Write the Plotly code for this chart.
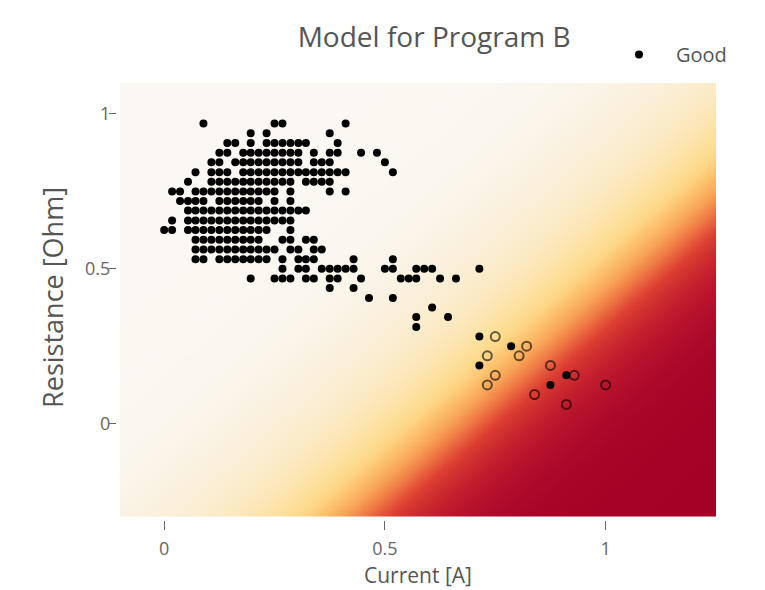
import numpy as np
import plotly.graph_objects as go

# ---------------- data ----------------
good_current = [
    0.089, 0.25, 0.268, 0.411,
    0.196, 0.232, 0.375,
    0.143, 0.161, 0.196, 0.232, 0.25, 0.268, 0.286, 0.304, 0.321, 0.393,
    0.125, 0.143, 0.179, 0.196, 0.214, 0.232, 0.25, 0.268, 0.286, 0.304, 0.339, 0.375, 0.393, 0.446, 0.482,
    0.107, 0.125, 0.161, 0.179, 0.196, 0.214, 0.232, 0.25, 0.268, 0.286, 0.304, 0.339, 0.357, 0.375, 0.5,
    0.071, 0.107, 0.125, 0.143, 0.179, 0.196, 0.214, 0.232, 0.25, 0.268, 0.286, 0.304, 0.321, 0.339, 0.357, 0.375, 0.393, 0.411, 0.518,
    0.054, 0.107, 0.125, 0.143, 0.161, 0.179, 0.196, 0.214, 0.232, 0.25, 0.268, 0.286, 0.321, 0.339, 0.357, 0.375,
    0.018, 0.036, 0.071, 0.089, 0.107, 0.125, 0.143, 0.161, 0.179, 0.196, 0.214, 0.232, 0.25, 0.286, 0.375, 0.411,
    0.036, 0.054, 0.071, 0.089, 0.125, 0.143, 0.161, 0.179, 0.196, 0.214, 0.25, 0.286,
    0.054, 0.071, 0.089, 0.107, 0.125, 0.143, 0.161, 0.179, 0.196, 0.214, 0.232, 0.25, 0.268, 0.286, 0.304, 0.321,
    0.018, 0.054, 0.071, 0.089, 0.107, 0.125, 0.143, 0.161, 0.179, 0.196, 0.214, 0.232, 0.25, 0.268, 0.286,
    0.0, 0.018, 0.054, 0.071, 0.089, 0.107, 0.125, 0.143, 0.161, 0.179, 0.196, 0.214, 0.232, 0.286,
    0.071, 0.089, 0.107, 0.125, 0.143, 0.161, 0.179, 0.196, 0.214, 0.268, 0.286, 0.321, 0.339,
    0.071, 0.089, 0.107, 0.125, 0.143, 0.161, 0.179, 0.196, 0.214, 0.232, 0.25, 0.286, 0.304, 0.339, 0.357,
    0.071, 0.089, 0.125, 0.143, 0.161, 0.179, 0.196, 0.214, 0.232, 0.268, 0.304, 0.321, 0.339, 0.429, 0.518,
    0.268, 0.304, 0.321, 0.357, 0.375, 0.393, 0.411, 0.429, 0.5, 0.518, 0.571, 0.589, 0.607, 0.714,
    0.196, 0.25, 0.268, 0.286, 0.321, 0.339, 0.375, 0.393, 0.446, 0.536, 0.554, 0.571, 0.625, 0.661,
    0.375, 0.429,
    0.464, 0.518,
    0.607,
    0.571, 0.643,
    0.571,
    0.714,
    0.786,
    0.714,
    0.911,
    0.875,
]
good_resistance = [
    0.969, 0.969, 0.969, 0.969,
    0.938, 0.938, 0.938,
    0.906, 0.906, 0.906, 0.906, 0.906, 0.906, 0.906, 0.906, 0.906, 0.906,
    0.875, 0.875, 0.875, 0.875, 0.875, 0.875, 0.875, 0.875, 0.875, 0.875, 0.875, 0.875, 0.875, 0.875, 0.875,
    0.844, 0.844, 0.844, 0.844, 0.844, 0.844, 0.844, 0.844, 0.844, 0.844, 0.844, 0.844, 0.844, 0.844, 0.844,
    0.812, 0.812, 0.812, 0.812, 0.812, 0.812, 0.812, 0.812, 0.812, 0.812, 0.812, 0.812, 0.812, 0.812, 0.812, 0.812, 0.812, 0.812, 0.812,
    0.781, 0.781, 0.781, 0.781, 0.781, 0.781, 0.781, 0.781, 0.781, 0.781, 0.781, 0.781, 0.781, 0.781, 0.781, 0.781,
    0.75, 0.75, 0.75, 0.75, 0.75, 0.75, 0.75, 0.75, 0.75, 0.75, 0.75, 0.75, 0.75, 0.75, 0.75, 0.75,
    0.719, 0.719, 0.719, 0.719, 0.719, 0.719, 0.719, 0.719, 0.719, 0.719, 0.719, 0.719,
    0.688, 0.688, 0.688, 0.688, 0.688, 0.688, 0.688, 0.688, 0.688, 0.688, 0.688, 0.688, 0.688, 0.688, 0.688, 0.688,
    0.656, 0.656, 0.656, 0.656, 0.656, 0.656, 0.656, 0.656, 0.656, 0.656, 0.656, 0.656, 0.656, 0.656, 0.656,
    0.625, 0.625, 0.625, 0.625, 0.625, 0.625, 0.625, 0.625, 0.625, 0.625, 0.625, 0.625, 0.625, 0.625,
    0.594, 0.594, 0.594, 0.594, 0.594, 0.594, 0.594, 0.594, 0.594, 0.594, 0.594, 0.594, 0.594,
    0.562, 0.562, 0.562, 0.562, 0.562, 0.562, 0.562, 0.562, 0.562, 0.562, 0.562, 0.562, 0.562, 0.562, 0.562,
    0.531, 0.531, 0.531, 0.531, 0.531, 0.531, 0.531, 0.531, 0.531, 0.531, 0.531, 0.531, 0.531, 0.531, 0.531,
    0.5, 0.5, 0.5, 0.5, 0.5, 0.5, 0.5, 0.5, 0.5, 0.5, 0.5, 0.5, 0.5, 0.5,
    0.469, 0.469, 0.469, 0.469, 0.469, 0.469, 0.469, 0.469, 0.469, 0.469, 0.469, 0.469, 0.469, 0.469,
    0.438, 0.438,
    0.406, 0.406,
    0.375,
    0.344, 0.344,
    0.312,
    0.281,
    0.25,
    0.188,
    0.156,
    0.125,
]
bad_current = [0.75, 0.821, 0.732, 0.804, 0.75, 0.732, 0.875, 0.929, 0.839, 0.911, 1.0]
bad_resistance = [0.281, 0.25, 0.219, 0.219, 0.156, 0.125, 0.188, 0.156, 0.094, 0.062, 0.125]

x_tick_values = [0, 0.5, 1]
y_tick_values = [0, 0.5, 1]

# logistic model drawn in the background (probability of "bad")
model_intercept = -4.35
model_coef_current = 6.89
model_coef_resistance = -5.56

x_range = [-0.1, 1.25]
y_range = [-0.3, 1.1]

# ---------------- model surface ----------------
gx = np.linspace(x_range[0], x_range[1], 170)
gy = np.linspace(y_range[0], y_range[1], 170)
GX, GY = np.meshgrid(gx, gy)
score = model_intercept + model_coef_current * GX + model_coef_resistance * GY
prob = 1.0 / (1.0 + np.exp(-score))

colorscale = [
    [0.0, "#fbf8f3"],
    [0.05, "#faf0dc"],
    [0.17, "#fce8bd"],
    [0.3, "#fddf98"],
    [0.37, "#fdd585"],
    [0.45, "#fcbd6a"],
    [0.52, "#f8a458"],
    [0.6, "#ef7a45"],
    [0.7, "#dc3d31"],
    [0.8, "#c5222e"],
    [0.87, "#b8122c"],
    [0.95, "#a80629"],
    [1.0, "#a50026"],
]

fig = go.Figure()
fig.add_trace(go.Heatmap(
    x=gx, y=gy, z=prob, zmin=0, zmax=1, zsmooth="best",
    colorscale=colorscale, showscale=False, hoverinfo="skip", showlegend=False,
))
fig.add_trace(go.Scatter(
    x=good_current, y=good_resistance, mode="markers", name="Good",
    marker=dict(color="black", size=8, symbol="circle"),
))
fig.add_trace(go.Scatter(
    x=bad_current, y=bad_resistance, mode="markers", name="Bad", showlegend=False,
    marker=dict(color="rgba(0,0,0,0.6)", size=9, symbol="circle-open", line=dict(width=2)),
))

fig.update_layout(
    width=765, height=590,
    margin=dict(l=108, r=57, t=75, b=78),
    paper_bgcolor="white", plot_bgcolor="white",
    font=dict(family="Open Sans", size=18, color="#555"),
    title=dict(text="Model for Program B", x=0.557, xanchor="center", y=0.951, yanchor="middle",
               font=dict(size=28, color="#555")),
    showlegend=True,
    legend=dict(x=0.81, xanchor="left", y=1.065, yanchor="middle", bgcolor="rgba(0,0,0,0)",
                itemwidth=64, font=dict(size=20, color="#555")),
    annotations=[
        dict(text="Current [A]", xref="paper", yref="paper", x=0.5033, y=-0.125,
             xanchor="center", yanchor="middle", showarrow=False,
             font=dict(size=21, color="#555")),
        dict(text="Resistance [Ohm]", xref="paper", yref="paper", x=-0.107, y=0.51,
             xanchor="center", yanchor="middle", showarrow=False, textangle=-90,
             font=dict(size=27, color="#555")),
    ],
)
fig.update_xaxes(
    domain=[0.0067, 1], anchor="free", position=0,
    range=x_range, tickvals=x_tick_values, ticks="outside", ticklen=9, tickcolor="#666",
    ticklabelstandoff=3,
    showgrid=False, zeroline=False, showline=False,
    tickfont=dict(size=18, color="#666"),
)
fig.update_yaxes(
    domain=[0.008, 1], anchor="free", position=0,
    range=y_range, tickvals=y_tick_values, ticks="outside", ticklen=7, tickcolor="#666",
    ticklabelstandoff=-5,
    showgrid=False, zeroline=False, showline=False,
    tickfont=dict(size=18, color="#666"),
)

fig.write_html("out.html")
